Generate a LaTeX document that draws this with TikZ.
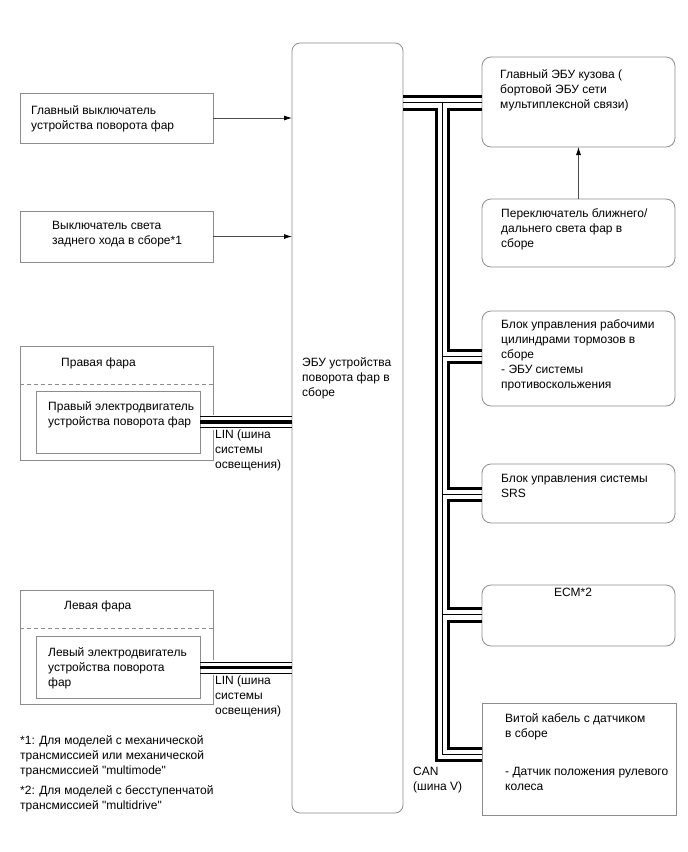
\documentclass[tikz,border=0pt]{standalone}
\usepackage{fontspec}
\setmainfont{Liberation Sans}[Ligatures=TeXOff]
\usepackage{xcolor}
\usepackage{tikz}
\usetikzlibrary{arrows.meta,positioning,calc}

\definecolor{framegray}{RGB}{140,140,140}

\begin{document}
\begin{tikzpicture}[x=1pt,y=-1pt,
	box/.style={draw=framegray, line width=0.8pt, anchor=north west, inner sep=0pt, outer sep=0pt},
	rbox/.style={box, rounded corners=9pt},
	txt/.style={font=\fontsize{12}{15}\selectfont, align=left, inner sep=0pt, anchor=north west},
	feed/.style={draw=black!70, line width=0.8pt, -{Latex[length=8pt,width=5pt,color=black]}},
	wire/.style={line width=3pt},
	wirethin/.style={line width=0.9pt},
	linwire/.style={line width=3.5pt},
	linbg/.style={white, line width=15pt}]

	\useasboundingbox (0,0) rectangle (688,852);

	\node[rbox, rounded corners=8pt, minimum width=111pt, minimum height=770pt] (ecu) at (292,43) {};
	\node[txt] (ecutxt) at (302,357) {ЭБУ устройства\\поворота фар в\\сборе};

	\node[box, minimum width=193pt, minimum height=50pt] (mainsw) at (20,93) {};
	\node[txt] (mainswtxt) at (31,105) {Главный выключатель\\устройства поворота фар};
	\draw[feed] (mainsw.east) -- (mainsw.east -| ecu.west);

	\node[box, minimum width=193pt, minimum height=51pt] (revsw) at (20,211) {};
	\node[txt] (revswtxt) at (52,221) {Выключатель света\\заднего хода в сборе*1};
	\draw[feed] (revsw.east) -- (revsw.east -| ecu.west);

	\node[box, minimum width=193pt, minimum height=114pt] (rhead) at (20,346) {};
	\node[txt] (rheadtxt) at (61,358) {Правая фара};
	\draw[framegray, line width=0.8pt, dash pattern=on 4pt off 3pt] (rhead.west |- 0,384) -- (rhead.east |- 0,384);
	\node[box, minimum width=164pt, minimum height=62pt] (rmotor) at (36,391) {};
	\node[txt] (rmotortxt) at (48,401) {Правый электродвигатель\\устройства поворота фар};

	\node[box, minimum width=193pt, minimum height=114pt] (lhead) at (20,590) {};
	\node[txt] (lheadtxt) at (64,601) {Левая фара};
	\draw[framegray, line width=0.8pt, dash pattern=on 4pt off 3pt] (lhead.west |- 0,628) -- (lhead.east |- 0,628);
	\node[box, minimum width=164pt, minimum height=62pt] (lmotor) at (36,636) {};
	\node[txt] (lmotortxt) at (48,647) {Левый электродвигатель\\устройства поворота\\фар};

	\draw[linbg] ($(rhead.east |- 0,422)+(-6,0)$) -- ($(rhead.east |- 0,422)+(6,0)$);
	\draw[wirethin] (rmotor.east |- 0,416.5) -- (ecu.west |- 0,416.5);
	\draw[linwire] (rmotor.east |- 0,422) -- (ecu.west |- 0,422);
	\draw[wirethin] (rmotor.east |- 0,427.5) -- (ecu.west |- 0,427.5);
	\node[txt] (rlin) at (215,430) {LIN (шина\\системы\\освещения)};

	\draw[linbg] ($(lhead.east |- 0,667.5)+(-6,0)$) -- ($(lhead.east |- 0,667.5)+(6,0)$);
	\draw[wirethin] (lmotor.east |- 0,662) -- (ecu.west |- 0,662);
	\draw[linwire] (lmotor.east |- 0,667.5) -- (ecu.west |- 0,667.5);
	\draw[wirethin] (lmotor.east |- 0,673) -- (ecu.west |- 0,673);
	\node[txt] (llin) at (215,676) {LIN (шина\\системы\\освещения)};

	\node[txt] (note1) at (20,735) {*1: Для моделей с механической\\трансмиссией или механической\\трансмиссией "multimode"};
	\node[txt] (note2) at (20,785) {*2: Для моделей с бесступенчатой\\трансмиссией "multidrive"};

	\node[rbox, minimum width=193pt, minimum height=90pt] (bodyecu) at (482,57) {};
	\node[txt] (bodyecutxt) at (500,69) {Главный ЭБУ кузова (\\бортовой ЭБУ сети\\мультиплексной связи)};

	\node[rbox, minimum width=193pt, minimum height=68pt] (dimmer) at (482,199) {};
	\node[txt] (dimmertxt) at (501,208) {Переключатель ближнего/\\дальнего света фар в\\сборе};
	\draw[feed] (dimmer.north) -- (bodyecu.south);

	\node[rbox, minimum width=193pt, minimum height=95pt] (brake) at (482,311) {};
	\node[txt] (braketxt) at (501,319) {Блок управления рабочими\\цилиндрами тормозов в\\сборе\\- ЭБУ системы\\противоскольжения};

	\node[rbox, minimum width=193pt, minimum height=59pt] (srs) at (482,464) {};
	\node[txt] (srstxt) at (501,474) {Блок управления системы\\SRS};

	\node[rbox, minimum width=193pt, minimum height=61pt] (ecm) at (482,585) {};
	\node[txt, anchor=north] (ecmtxt) at (573,588) {ECM*2};

	\node[box, minimum width=194pt, minimum height=112pt] (cable) at (482,703) {};
	\node[txt] (cabletxt) at (505,713) {Витой кабель с датчиком\\в сборе\\[23pt]- Датчик положения рулевого\\колеса};

	\coordinate (tl) at (436,0);
	\coordinate (tm) at (442,0);
	\coordinate (tr) at (448,0);

	\draw[wire] (ecu.east |- 0,96.5) -- (bodyecu.west |- 0,96.5);
	\draw[wirethin] (ecu.east |- 0,102.5) -- (bodyecu.west |- 0,102.5);
	\draw[wire] (ecu.east |- 0,109) -| (tl |- 0,760) -- (cable.west |- 0,760);
	\draw[wirethin] (tm |- 0,102.5) -- (tm |- 0,754) -- (cable.west |- 0,754);

	\draw[wire] (bodyecu.west |- 0,109) -| (tr |- 0,350) -- (brake.west |- 0,350);
	\draw[wirethin] (tm |- 0,356) -- (brake.west |- 0,356);
	\draw[wire] (brake.west |- 0,362) -| (tr |- 0,488) -- (srs.west |- 0,488);
	\draw[wirethin] (tm |- 0,494) -- (srs.west |- 0,494);
	\draw[wire] (srs.west |- 0,500) -| (tr |- 0,608) -- (ecm.west |- 0,608);
	\draw[wirethin] (tm |- 0,614.5) -- (ecm.west |- 0,614.5);
	\draw[wire] (ecm.west |- 0,621) -| (tr |- 0,748) -- (cable.west |- 0,748);

	\node[txt] (cantxt) at (413,767) {CAN\\(шина V)};
\end{tikzpicture}
\end{document}
